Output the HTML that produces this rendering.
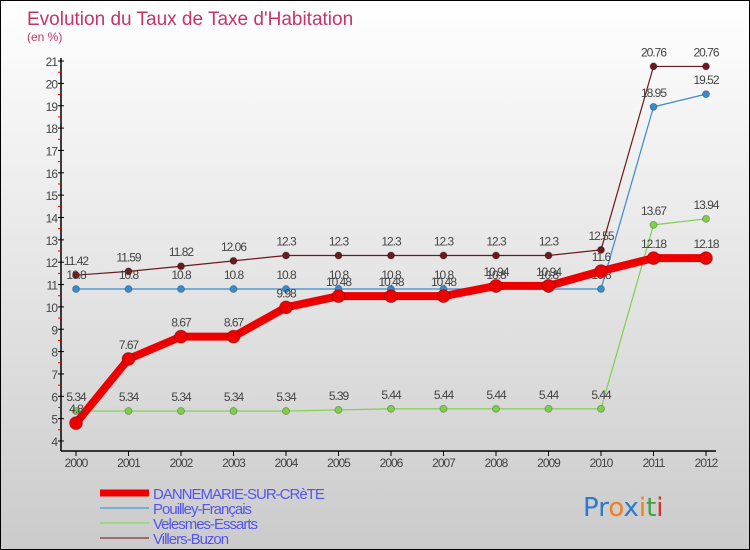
<!DOCTYPE html>
<html><head><meta charset="utf-8"><style>
body{margin:0;padding:0}
#c{width:750px;height:550px;position:relative;box-sizing:border-box;border:1px solid #000;background:linear-gradient(#fff,#cbcbcb);overflow:hidden;font-family:"Liberation Sans",sans-serif}
svg{position:absolute;left:0;top:0}
</style></head><body>
<div id="c">
<svg id="s" width="750" height="550"></svg>
</div>
<script>
const years=[2000,2001,2002,2003,2004,2005,2006,2007,2008,2009,2010,2011,2012];
const yTicks=[4,5,6,7,8,9,10,11,12,13,14,15,16,17,18,19,20,21];
const dann=[4.8,7.67,8.67,8.67,9.98,10.48,10.48,10.48,10.94,10.94,11.6,12.18,12.18];
const pouil=[10.8,10.8,10.8,10.8,10.8,10.8,10.8,10.8,10.8,10.8,10.8,18.95,19.52];
const veles=[5.34,5.34,5.34,5.34,5.34,5.39,5.44,5.44,5.44,5.44,5.44,13.67,13.94];
const vill=[11.42,11.59,11.82,12.06,12.3,12.3,12.3,12.3,12.3,12.3,12.55,20.76,20.76];
const seriesNames=["DANNEMARIE-SUR-CRèTE","Pouilley-Français","Velesmes-Essarts","Villers-Buzon"];
const NS="http://www.w3.org/2000/svg",s=document.getElementById('s');
const X=i=>75+i*52.5, Y=v=>440-(v-4)*22.35;
function el(t,a,p){const e=document.createElementNS(NS,t);for(const k in a)e.setAttribute(k,a[k]);(p||s).appendChild(e);return e;}
function txt(x,y,str,a){const e=el('text',Object.assign({x:x,y:y},a));e.textContent=str;return e;}
let t=txt(26,24,"Evolution du Taux de Taxe d'Habitation",{fill:'#c8336a','font-size':19});

t=txt(26,40,"(en %)",{fill:'#c8336a','font-size':12});

let a=el('line',{x1:60,y1:57,x2:60,y2:450,stroke:'#000','stroke-width':1.5});

a=el('line',{x1:60,y1:450,x2:715,y2:450,stroke:'#000','stroke-width':1.5});

yTicks.forEach(v=>{el('line',{x1:57,y1:Y(v),x2:63,y2:Y(v),stroke:'#000'});
 if(v<21)el('line',{x1:57,y1:Y(v+0.5),x2:60,y2:Y(v+0.5),stroke:'#e00'});
 const l=txt(56,Y(v)+5,String(v),{fill:'#444','font-size':12,'text-anchor':'end','letter-spacing':'-1'});
 });
years.forEach((y,i)=>{el('line',{x1:X(i),y1:450,x2:X(i),y2:455,stroke:'#000'});
 const l=txt(X(i),466,String(y),{fill:'#444','font-size':12,'text-anchor':'middle','letter-spacing':'-1'});
 });
function series(d,col,w,r,name){
 const g=el('g',{});
 el('polyline',{points:d.map((v,i)=>X(i)+','+Y(v)).join(' '),fill:'none',stroke:col,'stroke-width':w,'stroke-linejoin':'round'},g);
 d.forEach((v,i)=>{const c=el('circle',{cx:X(i),cy:Y(v),r:r,fill:col,stroke:'rgba(0,0,0,0.25)'},g);
  
  txt(X(i),Y(v)-10,String(v),{fill:'#444','font-size':12,'text-anchor':'middle','letter-spacing':'-1'},g);});
}
series(vill,'#6b1a1f',1.2,3.5,'series-villers-buzon');
series(pouil,'#3a8ad0',1.2,3.5,'series-pouilley-francais');
series(veles,'#7ed04a',1.2,3.5,'series-velesmes-essarts');
series(dann,'#ee0000',8,6.5,'series-dannemarie');
const lc=['#ee0000','#7aaed0','#a0d488','#9a6e6e'],lw=[7,2,2,2];
seriesNames.forEach((n,i)=>{const y=492+i*15;
 const g=el('g',{});
 el('line',{x1:99,y1:y,x2:148,y2:y,stroke:lc[i],'stroke-width':lw[i]},g);
 txt(152,y+6,n,{fill:'#5555ee','font-size':15,'letter-spacing':'-1'},g);});
const lg=el('text',{x:582,y:515,'font-size':26,'font-family':'"DejaVu Sans",sans-serif'});

[['P','#2a7ad0'],['r','#2a7ad0'],['o','#f08020'],['x','#2a7ad0'],['i','#f08020'],['t','#40a040'],['i','#d03030']].forEach(([c,f])=>{const ts=el('tspan',{fill:f},lg);ts.textContent=c;});
</script>
</body></html>
